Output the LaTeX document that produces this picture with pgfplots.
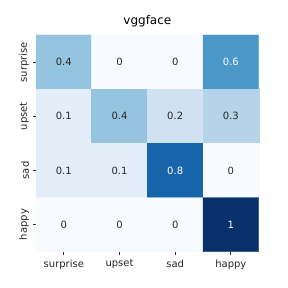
\documentclass[border=0pt]{standalone}
\usepackage{pgfplots}
\pgfplotsset{compat=1.18}
\usepackage{fontspec}
\setmainfont{DejaVu Sans}
\definecolor{tk}{HTML}{262626}
\begin{document}
\begin{tikzpicture}
\useasboundingbox (0,0) rectangle (288pt,288pt);
\begin{axis}[
  at={(36pt,36.3pt)}, anchor=south west,
  scale only axis, width=222.7pt, height=216.7pt,
  xmin=-0.5, xmax=3.5, ymin=-0.5, ymax=3.5,
  y dir=reverse,
  axis line style={draw=none},
  xtick={0,1,2,3}, ytick={0,1,2,3},
  xticklabels={surprise,upset,sad,happy},
  yticklabels={surprise,upset,sad,happy},
  yticklabel style={rotate=90, anchor=south},
  xticklabel style={anchor=north, yshift=-1pt},
  ticklabel style={font=\fontsize{10}{12}\selectfont, text=tk},
  tick align=outside, tickwidth=3.5pt,
  major tick style={tk, line width=0.8pt},
  xtick pos=bottom, ytick pos=left,
  colormap={blues}{rgb255=(247,251,255) rgb255=(222,235,247) rgb255=(198,219,239) rgb255=(158,202,225) rgb255=(107,174,214) rgb255=(66,146,198) rgb255=(33,113,181) rgb255=(8,81,156) rgb255=(8,48,107)},
  point meta min=0, point meta max=1,
  title={vggface}, title style={font=\fontsize{12}{14}\selectfont, text=black, yshift=-2pt},
  clip=false,
]
\addplot[matrix plot*, mesh/cols=4, point meta=explicit] table[meta=c] {
x y c
0 0 0.4
1 0 0
2 0 0
3 0 0.6
0 1 0.1
1 1 0.4
2 1 0.2
3 1 0.3
0 2 0.1
1 2 0.1
2 2 0.8
3 2 0
0 3 0
1 3 0
2 3 0
3 3 1
};
\addplot[draw=none, mark=none, nodes near coords, nodes near coords align={center},
  point meta=explicit symbolic,
  every node near coord/.append style={font=\fontsize{10}{12}\selectfont, text=tk, anchor=center}]
  table[meta=t] {
x y t
0 0 0.4
1 0 0
2 0 0
0 1 0.1
1 1 0.4
2 1 0.2
3 1 0.3
0 2 0.1
1 2 0.1
3 2 0
0 3 0
1 3 0
2 3 0
};
\addplot[draw=none, mark=none, nodes near coords, nodes near coords align={center},
  point meta=explicit symbolic,
  every node near coord/.append style={font=\fontsize{10}{12}\selectfont, text=white, anchor=center}]
  table[meta=t] {
x y t
3 0 0.6
2 2 0.8
3 3 1
};
\end{axis}
\end{tikzpicture}
\end{document}
